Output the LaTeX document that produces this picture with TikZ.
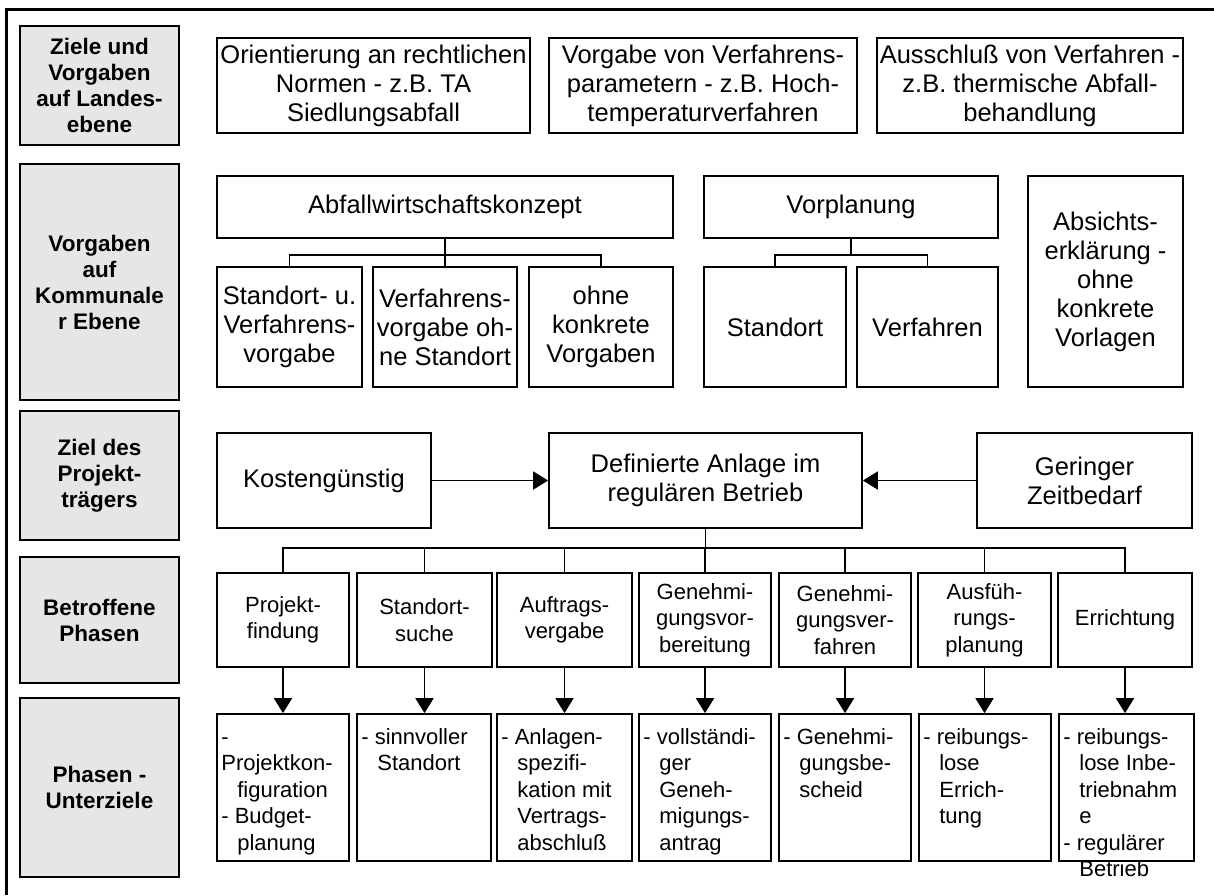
\documentclass[tikz,border=0pt]{standalone}
\usepackage{fontspec}
\setmainfont{Liberation Sans}
\usetikzlibrary{arrows.meta}
\definecolor{lg}{RGB}{230,230,230}
\newcommand\bigf{\fontsize{25.5}{29}\selectfont}
\newcommand\smf{\fontsize{22}{26.5}\selectfont}
\newcommand\labf{\fontsize{22.5}{26}\selectfont\bfseries}
\newcommand\ind{\hspace*{16pt}}
\begin{document}
\begin{tikzpicture}[x=1pt,y=-1pt,
  box/.style={draw, line width=1.7pt, inner sep=0pt, align=center, font=\bigf},
  pbox/.style={draw, line width=1.7pt, inner sep=0pt, align=center, font=\smf},
  sbox/.style={draw, line width=1.7pt, inner sep=0pt, minimum height=147pt},
  lab/.style={draw, line width=1.7pt, fill=lg, inner sep=0pt, align=center, font=\labf, minimum width=159pt},
  sub/.style={anchor=north west, inner sep=0pt, align=left, font=\smf},
  con/.style={line width=1.7pt},
  arr/.style={line width=1.7pt, -{Triangle[length=15pt,width=18pt]}}]
\useasboundingbox (0,0) rectangle (1214,895);
% frame
\draw[line width=3pt] (1214,9.7) -- (6.7,9.7) -- (6.7,895);
% left labels
\node[lab, minimum height=119pt] (l1) at (99.5,85.5) {Ziele und\\Vorgaben\\auf Landes-\\ebene};
\node[lab, minimum height=236pt] (l2) at (99.5,282) {Vorgaben\\auf\\Kommunale\\r Ebene};
\node[lab, minimum height=129pt] (l3) at (99.5,475.5) {Ziel des\\Projekt-\\trägers};
\node[lab, minimum height=126pt] (l4) at (99.5,620) {Betroffene\\Phasen};
\node[lab, minimum height=179pt] (l5) at (99.5,787.5) {Phasen -\\Unterziele};
% top row
\node[box, minimum width=313pt, minimum height=95pt] (t1) at (373.5,85.5) {Orientierung an rechtlichen\\Normen - z.B. TA\\Siedlungsabfall};
\node[box, minimum width=308pt, minimum height=95pt] (t2) at (703,85.5) {Vorgabe von Verfahrens-\\parametern - z.B. Hoch-\\temperaturverfahren};
\node[box, minimum width=306pt, minimum height=95pt] (t3) at (1030,85.5) {Ausschluß von Verfahren -\\z.B. thermische Abfall-\\behandlung};
% row 2
\node[box, minimum width=456pt, minimum height=62pt] (abf) at (445,207) {Abfallwirtschaftskonzept};
\node[box, minimum width=294pt, minimum height=62pt] (vor) at (851,207) {Vorplanung};
\node[box, minimum width=145pt, minimum height=120pt] (sa) at (289.5,327) {Standort- u.\\Verfahrens-\\vorgabe};
\node[box, minimum width=144pt, minimum height=120pt] (sb) at (445,327) {Verfahrens-\\vorgabe oh-\\ne Standort};
\node[box, minimum width=144pt, minimum height=120pt] (sc) at (601,327) {ohne\\konkrete\\Vorgaben};
\node[box, minimum width=142pt, minimum height=120pt] (sd) at (775,327) {Standort};
\node[box, minimum width=141pt, minimum height=120pt] (se) at (927.5,327) {Verfahren};
\node[box, minimum width=155pt, minimum height=211pt] (abs) at (1105.5,281.5) {Absichts-\\erklärung -\\ohne\\konkrete\\Vorlagen};
\coordinate (bus2) at (0,255);
\draw[con] (abf.south) -- (abf.south |- bus2);
\draw[con] (sa.north) -- (sa.north |- bus2) -- (sc.north |- bus2) -- (sc.north);
\draw[con] (sb.north) -- (sb.north |- bus2);
\draw[con] (vor.south) -- (vor.south |- bus2);
\draw[con] (sd.north) -- (sd.north |- bus2) -- (se.north |- bus2) -- (se.north);
% row 3
\node[box, minimum width=214pt, minimum height=95pt] (kos) at (324,480.5) {Kostengünstig};
\node[box, minimum width=313pt, minimum height=95pt] (def) at (705.5,480.5) {Definierte Anlage im\\regulären Betrieb};
\node[box, minimum width=215pt, minimum height=95pt] (ger) at (1084.5,480.5) {Geringer\\Zeitbedarf};
\draw[arr] (kos.east) -- (def.west);
\draw[arr] (ger.west) -- (def.east);
% row 4 phases
\node[pbox, minimum width=132pt, minimum height=94pt] (p1) at (283,620) {Projekt-\\findung};
\node[pbox, minimum width=135pt, minimum height=94pt] (p2) at (424.5,620) {Standort-\\suche};
\node[pbox, minimum width=135pt, minimum height=94pt] (p3) at (564.5,620) {Auftrags-\\vergabe};
\node[pbox, minimum width=132pt, minimum height=94pt] (p4) at (705,620) {Genehmi-\\gungsvor-\\bereitung};
\node[pbox, minimum width=132pt, minimum height=94pt] (p5) at (845,620) {Genehmi-\\gungsver-\\fahren};
\node[pbox, minimum width=133pt, minimum height=94pt] (p6) at (984.5,620) {Ausfüh-\\rungs-\\planung};
\node[pbox, minimum width=134pt, minimum height=94pt] (p7) at (1125,620) {Errichtung};
\coordinate (bus4) at (0,548);
\draw[con] (def.south) -- (def.south |- bus4);
\draw[con] (p1.north) -- (p1.north |- bus4) -- (p7.north |- bus4) -- (p7.north);
\foreach \p in {p2,p3,p4,p5,p6} \draw[con] (\p.north) -- (\p.north |- bus4);
% row 5 subgoals
\node[sbox, minimum width=132pt] (s1) at (283,787.5) {};
\node[sbox, minimum width=134pt] (s2) at (424,787.5) {};
\node[sbox, minimum width=135pt] (s3) at (564.5,787.5) {};
\node[sbox, minimum width=132pt] (s4) at (705,787.5) {};
\node[sbox, minimum width=132pt] (s5) at (845,787.5) {};
\node[sbox, minimum width=132pt] (s6) at (985,787.5) {};
\node[sbox, minimum width=135pt] (s7) at (1126.5,787.5) {};
\node[sub] (u1) at ([xshift=5pt,yshift=-12.5pt]s1.north west) {\strut-\\Projektkon-\\\ind figuration\\- Budget-\\\ind planung};
\node[sub] (u2) at ([xshift=5pt,yshift=-12.5pt]s2.north west) {\strut- sinnvoller\\\ind Standort};
\node[sub] (u3) at ([xshift=5pt,yshift=-12.5pt]s3.north west) {\strut- Anlagen-\\\ind spezifi-\\\ind kation mit\\\ind Vertrags-\\\ind abschluß};
\node[sub] (u4) at ([xshift=5pt,yshift=-12.5pt]s4.north west) {\strut- vollständi-\\\ind ger\\\ind Geneh-\\\ind migungs-\\\ind antrag};
\node[sub] (u5) at ([xshift=5pt,yshift=-12.5pt]s5.north west) {\strut- Genehmi-\\\ind gungsbe-\\\ind scheid};
\node[sub] (u6) at ([xshift=5pt,yshift=-12.5pt]s6.north west) {\strut- reibungs-\\\ind lose\\\ind Errich-\\\ind tung};
\node[sub] (u7) at ([xshift=5pt,yshift=-12.5pt]s7.north west) {\strut- reibungs-\\\ind lose Inbe-\\\ind triebnahm\\\ind e\\- regulärer\\\ind Betrieb};
\foreach \i in {1,...,7} \draw[arr] (p\i.south) -- (p\i.south |- s\i.north);
\end{tikzpicture}
\end{document}
